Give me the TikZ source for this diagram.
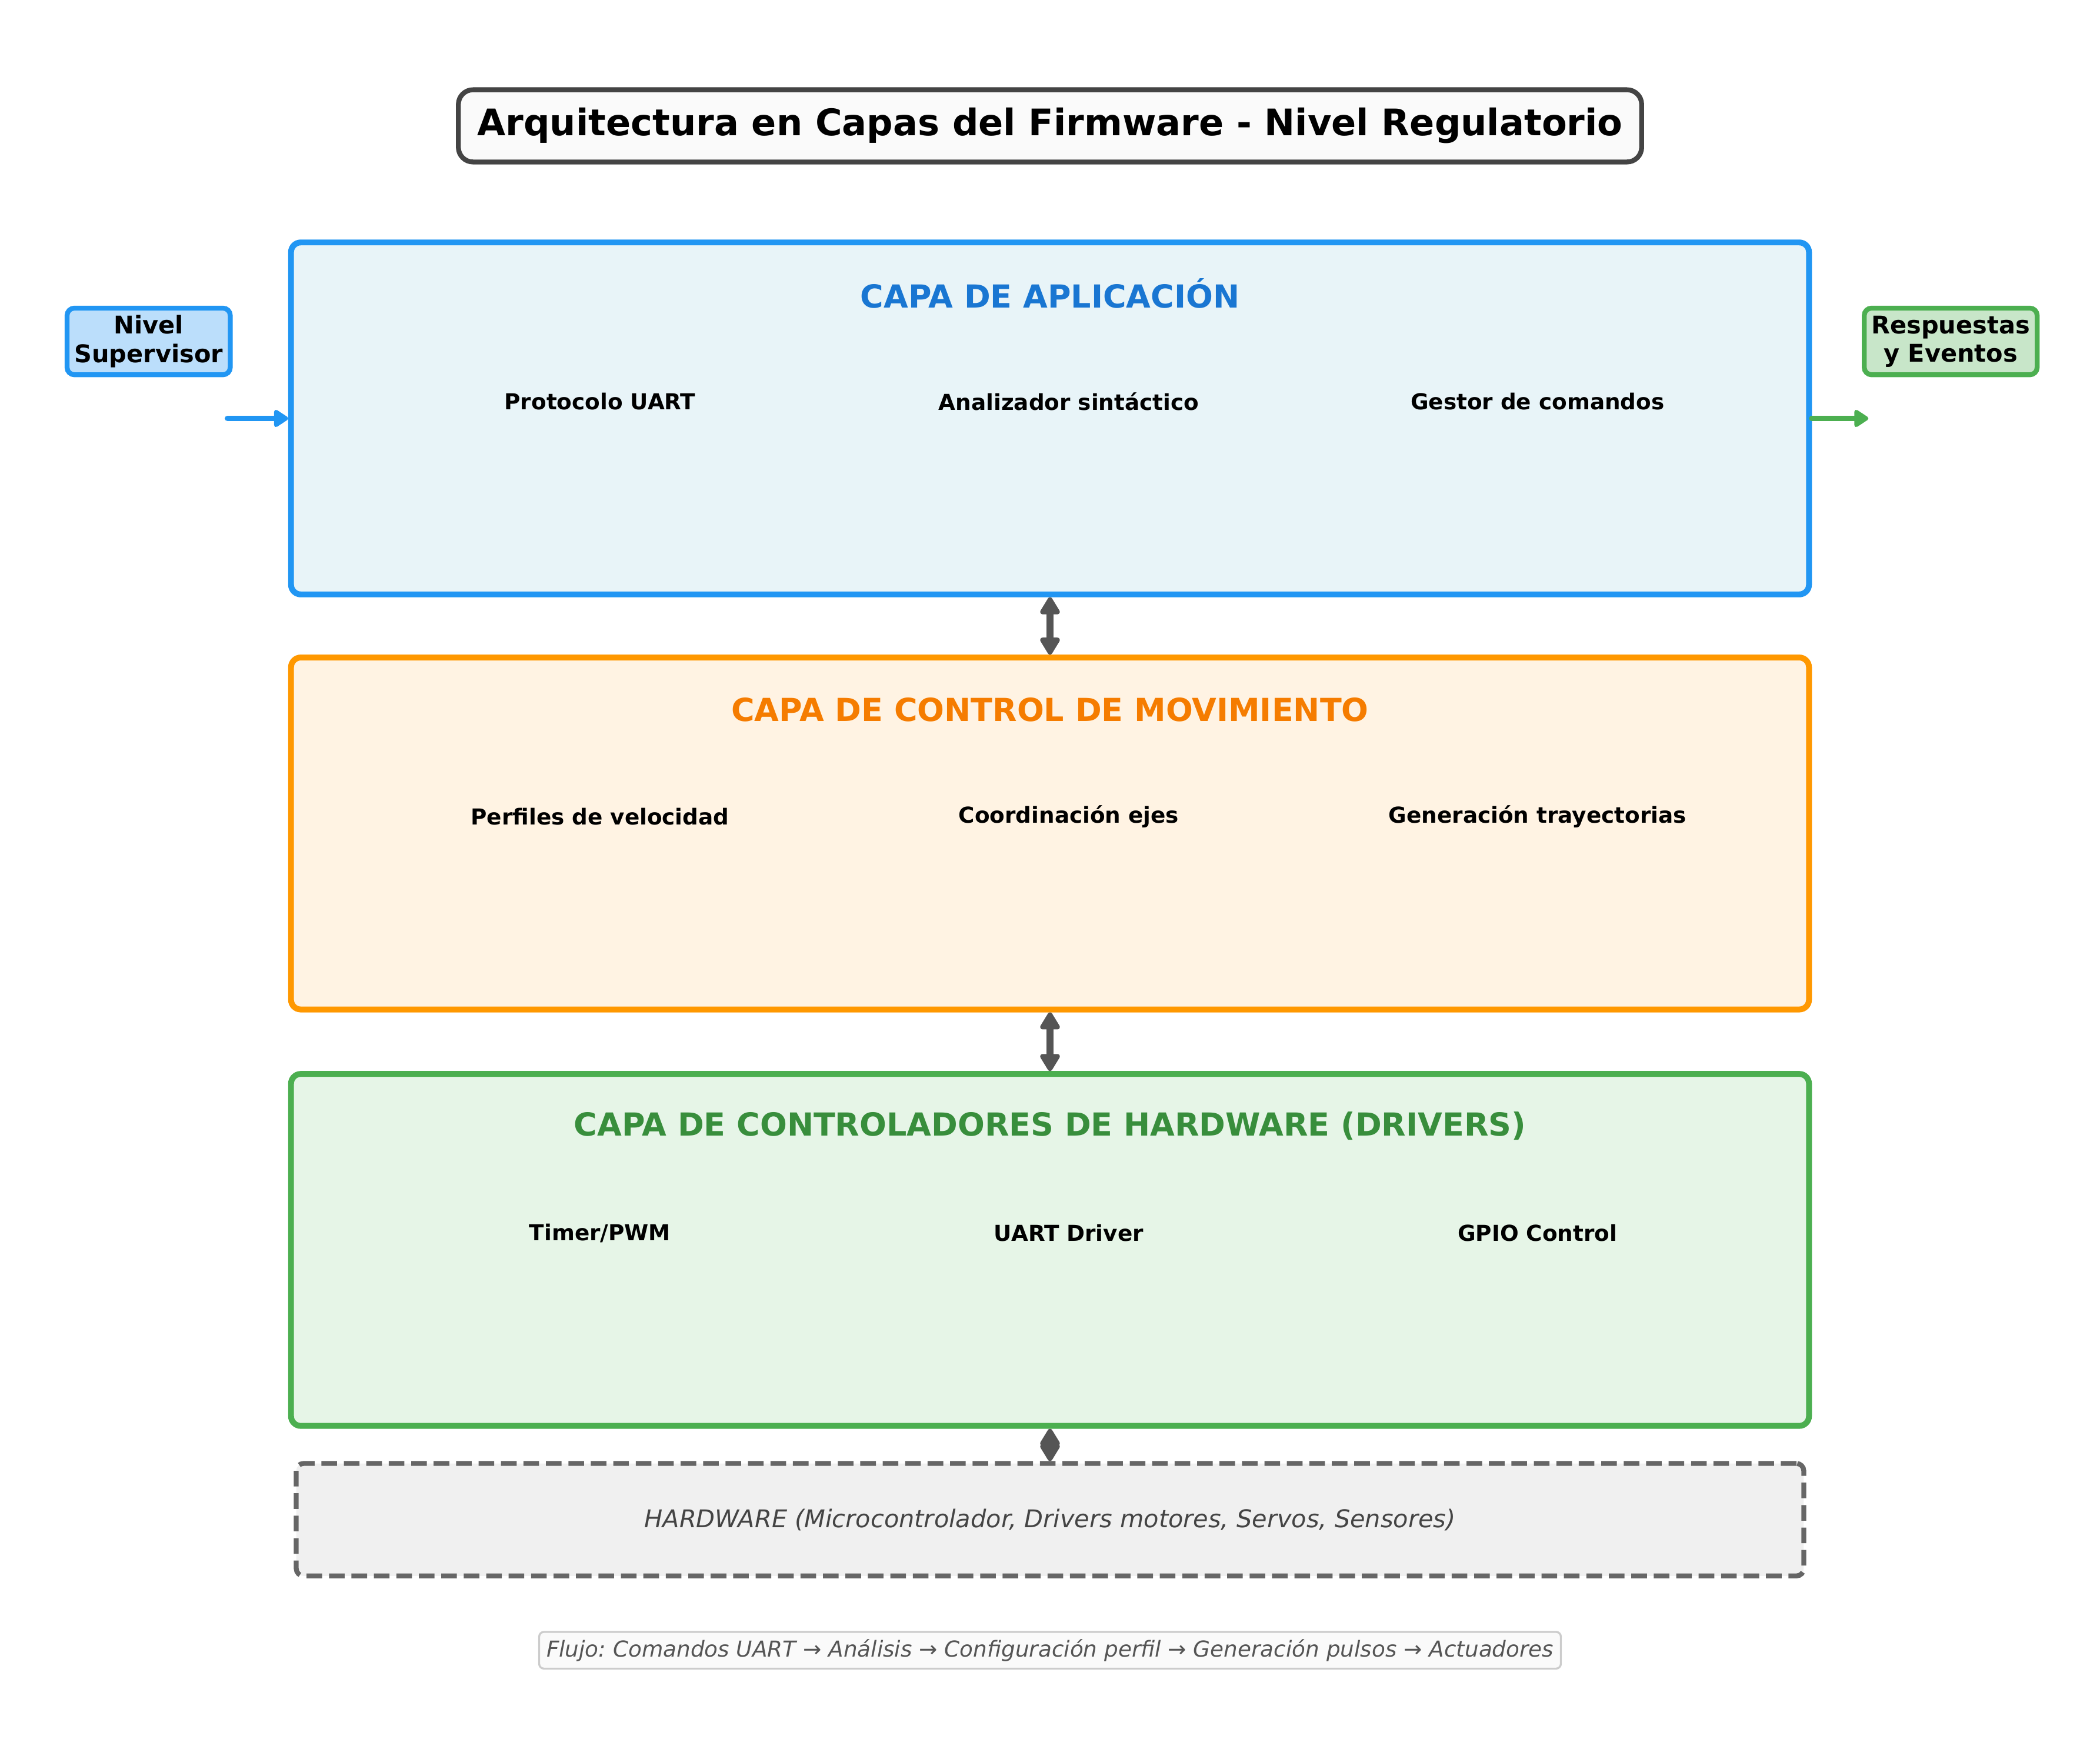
\documentclass[tikz,border=0pt]{standalone}
\usepackage{fontspec}
\setmainfont{DejaVu Sans}
\frenchspacing
\usetikzlibrary{arrows.meta, positioning}
\definecolor{cblue}{HTML}{2196F3}
\definecolor{cbluedark}{HTML}{1976D2}
\definecolor{cbluefill}{HTML}{E8F4F8}
\definecolor{cbluelight}{HTML}{BBDEFB}
\definecolor{corange}{HTML}{FF9800}
\definecolor{corangedark}{HTML}{F57C00}
\definecolor{corangefill}{HTML}{FFF3E3}
\definecolor{cgreen}{HTML}{4CAF50}
\definecolor{cgreendark}{HTML}{388E3C}
\definecolor{cgreenfill}{HTML}{E6F5E7}
\definecolor{cgreenlight}{HTML}{C8E6C9}
\definecolor{cgrey}{HTML}{555555}
\definecolor{cdash}{HTML}{666666}
\definecolor{cframe}{HTML}{444444}
\definecolor{cfoot}{HTML}{CCCCCC}
\tikzset{
  every picture/.style={line width=2.4pt},
  layer/.style 2 args={draw=#1, fill=#2, rounded corners=4pt, minimum width=21.86cm, minimum height=5.07cm},
  layertitle/.style={font=\bfseries\fontsize{13}{15.5}\selectfont, text=#1},
  item/.style={font=\bfseries\fontsize{9}{11}\selectfont},
  tag/.style 2 args={draw=#1, fill=#2, rounded corners=3pt, line width=2pt, align=center, inner sep=1pt, minimum height=0.96cm, font=\bfseries\fontsize{10}{11.6}\selectfont},
  link/.style={{Triangle[length=8pt,width=9pt,round]}-{Triangle[length=8pt,width=9pt,round]}, draw=cgrey, line width=3pt},
  feed/.style={-{Triangle[length=6.5pt,width=8pt,round]}, draw=#1, line width=2.4pt, line cap=round},
}

\begin{document}
\begin{tikzpicture}[x=0.01928cm, y=-0.01928cm]
  \useasboundingbox (0,0) rectangle (1568,1304);
  % title
  \node[draw=cframe, fill=black!2, line width=2pt, rounded corners=6pt, minimum width=17.04cm, minimum height=1.04cm, font=\bfseries\fontsize{15}{18}\selectfont] (title) at (784,94) {Arquitectura en Capas del Firmware - Nivel Regulatorio};
  % layers
  \node[layer={cblue}{cbluefill}] (app) at (784,312.5) {};
  \node[layer={corange}{corangefill}] (motion) at (784,622.5) {};
  \node[layer={cgreen}{cgreenfill}] (drivers) at (784,933.5) {};
  \node[layertitle=cbluedark] (tapp) at (784,219) {CAPA DE APLICACIÓN};
  \node[layertitle=corangedark] (tmotion) at (784,530) {CAPA DE CONTROL DE MOVIMIENTO};
  \node[layertitle=cgreendark] (tdrivers) at (784,841) {CAPA DE CONTROLADORES DE HARDWARE (DRIVERS)};
  % modules
  \foreach \x/\n/\t in {448/pa/Protocolo UART, 798/pb/Analizador sintáctico, 1148/pc/Gestor de comandos}
    { \node[item] (\n) at (\x,300) {\t}; }
  \foreach \x/\n/\t in {448/ma/Perfiles de velocidad, 798/mb/Coordinación ejes, 1148/mc/Generación trayectorias}
    { \node[item] (\n) at (\x,610) {\t}; }
  \foreach \x/\n/\t in {448/da/{Timer/PWM}, 798/db/UART Driver, 1148/dc/GPIO Control}
    { \node[item] (\n) at (\x,921) {\t}; }
  % hardware
  \node[draw=cdash, fill=black!6, dash pattern=on 6.4pt off 2.8pt, line width=2pt, rounded corners=3pt, minimum width=21.71cm, minimum height=1.62cm, font=\itshape\fontsize{10}{12}\selectfont, text=cframe] (hw) at (784,1135) {HARDWARE (Microcontrolador, Drivers motores, Servos, Sensores)};
  % side tags
  \node[tag={cblue}{cbluelight}, minimum width=2.35cm] (sup) at (111,255) {Nivel\\Supervisor};
  \node[tag={cgreen}{cgreenlight}, minimum width=2.49cm] (resp) at (1456.5,255) {Respuestas\\y Eventos};
  \coordinate (supin) at (170,312.5);
  \coordinate (respout) at (1395,312.5);
  % connectors
  \draw[feed=cblue] (supin) -- (app.west);
  \draw[feed=cgreen] (app.east) -- (respout);
  \draw[link] (app.south) -- (motion.north);
  \draw[link] (motion.south) -- (drivers.north);
  \draw[link] (drivers.south) -- (hw.north);
  % footer
  \node[draw=cfoot, fill=black!2, line width=0.8pt, rounded corners=2pt, inner sep=3pt, font=\itshape\fontsize{9}{11}\selectfont, text=cgrey] (flow) at (784,1232.5) {Flujo: Comandos UART → Análisis → Configuración perfil → Generación pulsos → Actuadores};
\end{tikzpicture}
\end{document}
